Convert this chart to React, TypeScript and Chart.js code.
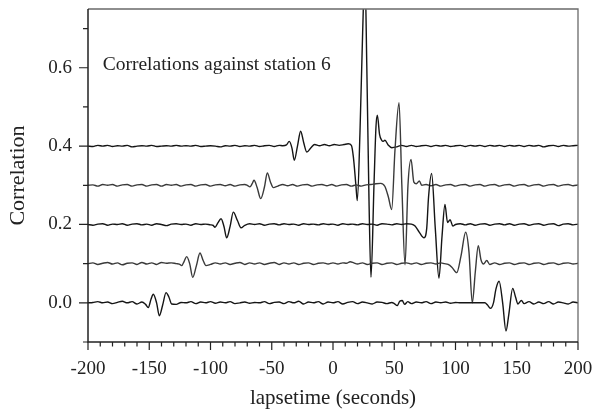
import React, { useEffect, useRef } from "react";
import { Chart, registerables } from "chart.js";

Chart.register(...registerables);

// Offsets at which each correlation trace is plotted
const offsets = [0, 0.1, 0.2, 0.3, 0.4];

// [lapsetime (s), correlation relative to trace offset]
const trace0: number[][] = [
  [-200, 0], [-196, 0.001], [-192, 0.003], [-188, 0], [-184, 0.002], [-180, -0.002], [-176, 0.001], [-172, 0.004],
  [-168, 0], [-164, 0.003], [-160, -0.003], [-156, 0.002], [-153, -0.004], [-150.8, -0.012], [-148.5, 0.01],
  [-146.7, 0.022], [-144, 0.0], [-141.8, -0.033], [-139, -0.005], [-136.3, 0.026], [-134, 0.015], [-131.7, -0.003],
  [-128, -0.004], [-124, 0.001], [-120, 0], [-116, 0.003], [-112, -0.002], [-108, 0.002], [-104, 0], [-100, 0.003],
  [-96, -0.001], [-92, 0.002], [-88, 0], [-84, 0.003], [-80, -0.002], [-76, 0], [-72, 0.002], [-68, -0.001],
  [-64, 0.001], [-60, 0], [-56, 0.003], [-52, -0.002], [-48, 0.001], [-44, 0.002], [-40, -0.002], [-36, 0.003],
  [-32, 0], [-28, 0.004], [-24, -0.003], [-20, 0.002], [-16, 0], [-12, 0.003], [-8, -0.003], [-4, 0.002], [0, 0],
  [4, 0.003], [8, -0.003], [12, 0.001], [16, 0.003], [20, -0.002], [24, 0.002], [28, 0], [32, -0.003], [36, 0.002],
  [40, 0.001], [44, -0.002], [48, 0.001], [50, -0.002], [52.5, -0.007], [54.5, 0.004], [56.5, 0.006], [58.5, -0.004],
  [61, 0.003], [64, -0.002], [68, 0.002], [72, 0], [76, 0.003], [80, -0.002], [84, 0.002], [88, 0], [92, 0.002],
  [96, -0.001], [100, 0.001], [104, 0], [108, 0], [112, 0], [116, 0], [120, 0], [124, 0], [126, -0.005],
  [128.5, -0.014], [131, 0.0], [133, 0.035], [135.6, 0.055], [138.5, 0.0], [141.2, -0.072], [143.5, -0.03],
  [146.7, 0.037], [149, 0.015], [151, -0.003], [153.8, 0.006], [156, -0.002], [160, 0.003], [164, -0.003],
  [168, 0.002], [172, -0.002], [176, 0.003], [180, -0.003], [184, 0.002], [188, 0], [192, -0.003], [196, 0.002], [200, 0],
];

const trace1: number[][] = [
  [-200, 0], [-196, 0.002], [-192, -0.002], [-188, 0.001], [-184, 0.003], [-180, -0.001], [-176, 0.002], [-172, -0.003],
  [-168, 0.001], [-164, 0.002], [-160, -0.002], [-156, 0.003], [-152, -0.001], [-148, 0.002], [-144, -0.002],
  [-140, 0.003], [-136, 0.001], [-132, 0.002], [-128, 0], [-125.5, -0.001], [-123.5, -0.005], [-121.5, 0.006],
  [-119.4, 0.018], [-117, 0.0], [-114.5, -0.035], [-111.5, -0.005], [-108.6, 0.027], [-106, 0.008], [-103.7, -0.005],
  [-100, -0.002], [-96, 0.002], [-92, -0.001], [-88, 0.002], [-84, -0.002], [-80, 0.001], [-76, 0.003], [-72, -0.002],
  [-68, 0.002], [-64, -0.001], [-60, 0.002], [-56, -0.002], [-52, 0.001], [-48, 0.003], [-44, -0.002], [-40, 0.002],
  [-36, -0.001], [-32, 0.002], [-28, -0.002], [-24, 0.001], [-20, 0.002], [-16, -0.002], [-12, 0.001], [-8, 0.002],
  [-4, -0.001], [0, 0.002], [4, -0.001], [8, 0.002], [11, 0.001], [14, 0.005], [17, 0.002], [20, -0.001], [24, 0.002],
  [28, -0.002], [32, 0.001], [36, 0.002], [40, -0.002], [44, 0.001], [48, 0.002], [52, -0.002], [56, 0.001],
  [60, 0.002], [64, -0.001], [68, 0.002], [72, -0.002], [76, 0.001], [80, 0.002], [84, -0.001], [88, 0.002], [91, 0.0],
  [94, -0.002], [97, -0.009], [101, -0.023], [104.5, 0.02], [108.3, 0.08], [111, 0.03], [113.7, -0.1], [116.2, -0.02],
  [118.6, 0.046], [120.8, 0.01], [122.8, -0.001], [125.5, 0.008], [128, -0.002], [132, 0.002], [136, -0.002],
  [140, 0.001], [144, 0.002], [148, -0.002], [152, 0.001], [156, 0.002], [160, -0.002], [164, 0.001], [168, 0.002],
  [172, -0.002], [176, 0.001], [180, 0.002], [184, -0.002], [188, 0.001], [192, 0.002], [196, -0.001], [200, 0.001],
];

const trace2: number[][] = [
  [-200, 0], [-196, -0.002], [-192, 0.001], [-188, 0.002], [-184, -0.002], [-180, 0.001], [-176, 0], [-172, 0.002],
  [-168, -0.002], [-164, 0.001], [-160, 0.002], [-156, -0.001], [-152, 0.001], [-148, -0.002], [-144, 0.002],
  [-140, 0], [-136, -0.003], [-132, 0.001], [-128, 0.002], [-124, 0], [-120, 0.001], [-116, -0.002], [-112, 0.002],
  [-108, 0], [-104, 0.001], [-100, -0.001], [-98, -0.002], [-96.3, -0.007], [-94, 0.004], [-91.4, 0.0146],
  [-89, -0.005], [-86.8, -0.034], [-84, -0.005], [-81.4, 0.0315], [-78, 0.01], [-75.1, -0.0085], [-72, -0.002],
  [-68, 0.002], [-64, 0], [-60, 0.002], [-56, -0.002], [-52, 0.001], [-48, 0.002], [-44, -0.001], [-40, 0.002],
  [-36, 0], [-32, 0.001], [-28, -0.002], [-24, 0.002], [-20, 0], [-16, 0.001], [-12, -0.001], [-8, 0.002], [-4, 0],
  [0, 0.001], [4, -0.002], [8, 0.002], [12, 0], [16, 0.001], [20, -0.001], [24, 0.002], [28, 0], [32, 0.001],
  [36, -0.002], [40, 0.002], [44, 0.001], [48, -0.001], [52, 0.002], [56, 0], [60, 0.002], [64, 0.001], [67, -0.004],
  [70.5, -0.02], [74.3, -0.034], [76.5, -0.01], [78, 0.07], [80.5, 0.13], [83.5, -0.01], [86.5, -0.137], [89, -0.03],
  [91.4, 0.051], [93.5, 0.005], [95.6, 0.012], [97.8, -0.004], [100, 0.0], [104, 0.002], [108, -0.001], [112, 0.002],
  [116, -0.002], [120, 0.001], [124, 0.002], [128, -0.002], [132, 0.001], [136, 0.002], [140, -0.001], [144, 0.002],
  [148, -0.002], [152, 0.001], [156, 0.002], [160, -0.002], [164, 0.001], [168, 0.002], [172, -0.002], [176, 0.001],
  [180, 0.002], [184, -0.003], [188, 0.001], [192, 0.002], [196, -0.001], [200, 0.001],
];

const trace3: number[][] = [
  [-200, 0], [-196, 0.001], [-192, -0.002], [-188, 0.002], [-184, 0], [-180, 0.002], [-176, -0.002], [-172, 0.001],
  [-168, 0.002], [-164, -0.002], [-160, 0.001], [-156, 0.002], [-152, -0.002], [-148, 0.001], [-144, 0.002],
  [-140, -0.002], [-136, 0.002], [-132, 0], [-128, 0.002], [-124, -0.002], [-120, 0.001], [-116, 0.002],
  [-112, -0.002], [-108, 0.001], [-104, 0.002], [-100, -0.002], [-96, 0.001], [-92, 0.002], [-88, -0.001],
  [-84, 0.002], [-80, -0.002], [-76, 0.001], [-72, 0.002], [-70, 0.0], [-67.8, -0.004], [-66, 0.004],
  [-64.5, 0.0128], [-62, -0.005], [-59, -0.034], [-56, -0.005], [-53.6, 0.0315], [-51, 0.008], [-48.7, -0.006],
  [-45, -0.002], [-41, 0.002], [-37, -0.001], [-33, 0.002], [-29, -0.002], [-25, 0.001], [-21, 0.002], [-17, -0.002],
  [-13, 0.001], [-9, 0.002], [-5, -0.001], [-1, 0.002], [3, -0.002], [7, 0.001], [11, 0.002], [15, -0.002],
  [19, 0.001], [23, -0.002], [27, 0.001], [31, 0.002], [35, 0.004], [39, 0.005], [42.4, -0.003], [45.2, -0.03],
  [47.9, -0.062], [50.6, 0.09], [53.9, 0.211], [56.2, 0.0], [58.8, -0.203], [61.2, 0.0], [63.7, 0.066], [66, 0.008],
  [68, 0.004], [70.5, 0.011], [72.5, 0.0], [76, 0.002], [80, -0.001], [84, 0.002], [88, -0.002], [92, 0.001],
  [96, 0.002], [100, -0.002], [104, 0.001], [108, 0.002], [112, -0.002], [116, 0.001], [120, 0.002], [124, -0.002],
  [128, 0.001], [132, 0.002], [136, -0.002], [140, 0.001], [144, 0.002], [148, -0.002], [152, 0.001], [156, 0.002],
  [160, -0.002], [164, 0.001], [168, 0.002], [172, -0.002], [176, 0.001], [180, 0.002], [184, -0.002], [188, 0.001],
  [192, 0.002], [196, -0.001], [200, 0.001],
];

const trace4: number[][] = [
  [-200, 0], [-196, -0.001], [-192, 0.002], [-188, 0], [-184, 0.002], [-180, -0.001], [-176, 0.001], [-172, 0],
  [-168, 0.002], [-164, -0.002], [-160, 0], [-156, 0.001], [-152, 0], [-148, 0.002], [-144, -0.001], [-140, 0],
  [-136, 0.001], [-132, 0], [-128, 0.002], [-124, 0], [-120, 0.001], [-116, 0], [-112, 0.002], [-108, -0.001],
  [-104, 0], [-100, 0.001], [-96, 0], [-92, -0.002], [-88, 0.001], [-84, 0], [-80, 0.002], [-76, -0.001], [-72, 0.001],
  [-68, 0], [-64, 0.002], [-60, -0.001], [-56, 0.001], [-52, 0.002], [-48, -0.001], [-44, 0.002], [-41, 0.001],
  [-38, 0.003], [-35.7, 0.012], [-33.5, -0.005], [-31.6, -0.036], [-29, 0.0], [-26.4, 0.038], [-24, 0.01],
  [-21.4, -0.015], [-18, -0.004], [-15, 0.004], [-11, 0.001], [-7, 0.004], [-3, 0.001], [1, 0.004], [5, 0.002],
  [9, 0.004], [12.5, 0.006], [15, 0.002], [16.6, -0.027], [18.8, -0.104], [19.8, -0.139], [22, 0.033], [24.2, 0.29],
  [26, 0.45], [27.6, 0.203], [29.4, -0.14], [31, -0.335], [33.5, -0.095], [35.1, 0.05], [36.2, 0.079], [38, 0.03],
  [39.7, 0.015], [41, 0.012], [42.4, 0.015], [45, 0.003], [48, -0.004], [52, -0.002], [56, 0.002], [60, -0.001],
  [64, 0.002], [68, -0.001], [72, 0.001], [76, 0.002], [80, -0.001], [84, 0.002], [88, 0], [92, 0.002], [96, -0.001],
  [100, 0.001], [104, 0.002], [108, -0.001], [112, 0.002], [116, 0], [120, 0.002], [124, -0.001], [128, 0.002],
  [132, 0], [136, 0.002], [140, -0.001], [144, 0.002], [148, 0], [152, 0.002], [156, -0.001], [160, 0.002], [164, 0],
  [168, 0.002], [172, -0.002], [176, 0.001], [180, 0.002], [184, -0.001], [188, 0.002], [192, 0], [196, 0.001],
  [200, 0.002],
];

const traces = [trace0, trace1, trace2, trace3, trace4];
const traceColors = ["#151515", "#3a3a3a", "#151515", "#3a3a3a", "#151515"];

const xTickValues = [-200, -150, -100, -50, 0, 50, 100, 150, 200];
const yTickValues = [0, 0.2, 0.4, 0.6];
const xMinorStep = 10;
const yMinorStep = 0.1;
const annotationText = "Correlations against station 6";
const xTitle = "lapsetime (seconds)";
const yTitle = "Correlation";

const SERIF = '"Liberation Serif", "DejaVu Serif", serif';

const framePlugin = {
  id: "frame",
  afterDraw(chart: any) {
    const { ctx, chartArea, scales } = chart;
    const { left, right, top, bottom } = chartArea;
    const x = scales.x;
    const y = scales.y;
    ctx.save();
    // top and right frame (grey)
    ctx.strokeStyle = "#6a6a6a";
    ctx.lineWidth = 1.3;
    ctx.beginPath();
    ctx.moveTo(left, top);
    ctx.lineTo(right, top);
    ctx.lineTo(right, bottom);
    ctx.stroke();
    // left and bottom axes
    ctx.strokeStyle = "#222";
    ctx.lineWidth = 1.5;
    ctx.beginPath();
    ctx.moveTo(left, top);
    ctx.lineTo(left, bottom);
    ctx.lineTo(right, bottom);
    ctx.stroke();
    // x ticks
    ctx.lineWidth = 1.2;
    ctx.beginPath();
    for (let t = x.min; t <= x.max + 1e-9; t += xMinorStep) {
      const px = x.getPixelForValue(t);
      const major = Math.abs(t % 50) < 1e-6;
      ctx.moveTo(px, bottom);
      ctx.lineTo(px, bottom + (major ? 8 : 4.5));
    }
    // y ticks
    for (let i = 0; ; i++) {
      const v = y.min + i * yMinorStep;
      if (v > y.max + 1e-9) break;
      const py = y.getPixelForValue(v);
      const major = yTickValues.some((m) => Math.abs(m - v) < 1e-6);
      ctx.moveTo(left, py);
      ctx.lineTo(left - (major ? 9 : 5), py);
    }
    ctx.stroke();
    // annotation
    ctx.fillStyle = "#222";
    ctx.font = `19.5px ${SERIF}`;
    ctx.textAlign = "left";
    ctx.textBaseline = "middle";
    ctx.fillText(annotationText, x.getPixelForValue(-188), y.getPixelForValue(0.607));
    ctx.restore();
  },
};

export default function App() {
  const ref = useRef<HTMLCanvasElement | null>(null);
  useEffect(() => {
    document.body.style.margin = "0";
    const canvas = ref.current;
    if (!canvas) return;
    const datasets = traces.map((tr, k) => ({
      label: `trace ${k}`,
      data: tr.map(([t, v]) => ({ x: t, y: v + offsets[k] })),
      borderColor: traceColors[k],
      borderWidth: 1.4,
      pointRadius: 0,
      fill: false,
      cubicInterpolationMode: "monotone" as const,
    }));
    const chart = new Chart(canvas, {
      type: "line",
      data: { datasets },
      plugins: [framePlugin],
      options: {
        animation: false,
        responsive: false,
        parsing: false as any,
        layout: { padding: { top: 9, right: 31, left: 0, bottom: 0 } },
        plugins: { legend: { display: false }, tooltip: { enabled: false } },
        scales: {
          x: {
            type: "linear",
            min: -200,
            max: 200,
            grid: { display: false, drawTicks: false },
            border: { display: false },
            afterBuildTicks: (s: any) => {
              s.ticks = xTickValues.map((v) => ({ value: v }));
            },
            afterFit: (s: any) => {
              s.height = 73;
              s.paddingLeft = 0;
              s.paddingRight = 0;
            },
            ticks: {
              autoSkip: false,
              maxRotation: 0,
              padding: 16,
              color: "#222",
              font: { family: SERIF, size: 19 },
              callback: (v: any) => String(v),
            },
            title: {
              display: true,
              text: xTitle,
              color: "#222",
              font: { family: SERIF, size: 21 },
              padding: { top: 0, bottom: 4 },
            },
          },
          y: {
            type: "linear",
            min: -0.1,
            max: 0.75,
            grid: { display: false, drawTicks: false },
            border: { display: false },
            afterBuildTicks: (s: any) => {
              s.ticks = yTickValues.map((v) => ({ value: v }));
            },
            afterFit: (s: any) => {
              s.width = 88;
              s.paddingTop = 0;
              s.paddingBottom = 0;
            },
            ticks: {
              padding: 16,
              color: "#222",
              font: { family: SERIF, size: 19 },
              callback: (v: any) => Number(v).toFixed(1),
            },
            title: {
              display: true,
              text: yTitle,
              color: "#222",
              font: { family: SERIF, size: 22 },
              padding: { top: 5, bottom: 0 },
            },
          },
        },
      },
    });
    return () => chart.destroy();
  }, []);
  return (
    <div style={{ width: 609, height: 415 }}>
      <canvas ref={ref} width={609} height={415} />
    </div>
  );
}
